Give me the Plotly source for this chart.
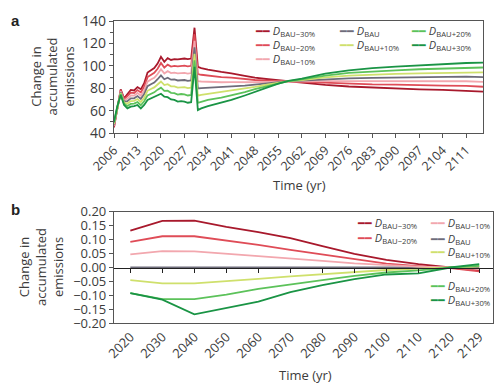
import plotly.graph_objects as go

# ---------------- data: panel a ----------------
years_a = [2006, 2007, 2008, 2009, 2010, 2011, 2012, 2013, 2014, 2015, 2016, 2017, 2018,
           2019, 2020, 2021, 2022, 2023, 2024, 2025, 2026, 2027, 2028, 2029, 2030, 2031,
           2032, 2034, 2038, 2041, 2045, 2048, 2052, 2055, 2058, 2062, 2069, 2076, 2083,
           2090, 2097, 2104, 2111, 2116]
a_m30 = [45.0, 62.0, 79.0, 71.0, 75.0, 78.5, 78.0, 81.0, 79.0, 84.5, 94.0, 96.0, 98.0, 102.0,
         108.0, 103.6, 106.8, 105.2, 106.0, 105.8, 106.0, 106.5, 106.0, 106.5, 134.0, 99.0,
         98.0, 96.5, 94.5, 93.3, 91.0, 89.4, 88.0, 87.0, 86.0, 85.0, 83.0, 81.5, 80.5, 80.0,
         79.0, 78.5, 78.0, 77.0]
a_m20 = [45.8, 62.3, 78.2, 70.0, 72.8, 76.0, 75.7, 78.3, 76.2, 81.3, 89.9, 91.8, 93.7, 97.3,
         102.5, 98.4, 101.0, 99.3, 99.9, 99.5, 99.8, 100.1, 99.5, 100.0, 128.2, 92.6, 92.0,
         91.1, 89.9, 89.4, 88.1, 87.3, 86.8, 86.5, 86.1, 85.6, 84.7, 83.9, 83.4, 83.2, 82.6,
         82.3, 82.1, 81.3]
a_m10 = [46.7, 62.7, 77.3, 69.0, 70.7, 73.5, 73.3, 75.7, 73.3, 78.0, 85.8, 87.7, 89.3, 92.7,
         97.0, 93.2, 95.2, 93.5, 93.9, 93.2, 93.5, 93.7, 93.0, 93.5, 122.3, 86.2, 86.0, 85.7,
         85.3, 85.4, 85.2, 85.3, 85.7, 86.0, 86.2, 86.2, 86.3, 86.3, 86.3, 86.4, 86.2, 86.2,
         86.2, 85.6]
a_bau = [47.5, 63.0, 76.5, 68.0, 68.5, 71.0, 71.0, 73.0, 70.5, 74.8, 81.8, 83.5, 85.0, 88.0,
         91.5, 88.0, 89.4, 87.6, 87.8, 86.9, 87.3, 87.3, 86.5, 87.0, 116.5, 79.8, 80.0, 80.3,
         80.8, 81.4, 82.3, 83.2, 84.5, 85.5, 86.3, 86.8, 88.0, 88.8, 89.3, 89.6, 89.8, 90.0,
         90.3, 89.9]
a_p10 = [48.3, 63.3, 75.7, 67.0, 66.3, 68.5, 68.7, 70.3, 67.7, 71.5, 77.7, 79.3, 80.7, 83.3,
         86.0, 82.8, 83.6, 81.7, 81.7, 80.6, 81.0, 80.9, 80.0, 80.5, 110.7, 73.3, 74.0, 74.9,
         76.2, 77.4, 79.3, 81.1, 83.3, 85.0, 86.3, 87.3, 89.7, 91.2, 92.2, 92.8, 93.3, 93.8,
         94.3, 94.2]
a_p20 = [49.2, 63.7, 74.8, 66.0, 64.2, 66.0, 66.3, 67.7, 64.8, 68.3, 73.6, 75.2, 76.3, 78.7,
         80.5, 77.6, 77.8, 75.9, 75.6, 74.3, 74.8, 74.5, 73.5, 74.0, 104.8, 66.9, 68.0, 69.5,
         71.6, 73.4, 76.4, 79.1, 82.2, 84.5, 86.4, 87.9, 91.3, 93.6, 95.1, 96.0, 96.9, 97.7,
         98.4, 98.5]
a_p30 = [50.0, 64.0, 74.0, 65.0, 62.0, 63.5, 64.0, 65.0, 62.0, 65.0, 69.5, 71.0, 72.0, 74.0,
         75.0, 72.4, 72.0, 70.0, 69.5, 68.0, 68.5, 68.0, 67.0, 67.5, 99.0, 60.5, 62.0, 64.0,
         67.0, 69.5, 73.5, 77.0, 81.0, 84.0, 86.5, 88.5, 93.0, 96.0, 98.0, 99.2, 100.5, 101.5,
         102.5, 102.8]
ticks_a = [2006, 2013, 2020, 2027, 2034, 2041, 2048, 2055, 2062, 2069, 2076, 2083, 2090,
           2097, 2104, 2111]

# ---------------- data: panel b ----------------
years_b = [2020, 2030, 2040, 2050, 2060, 2070, 2080, 2090, 2100, 2110, 2120, 2129]
b_m30 = [0.132, 0.167, 0.168, 0.146, 0.127, 0.105, 0.077, 0.049, 0.027, 0.012, 0.000, -0.011]
b_m20 = [0.092, 0.112, 0.112, 0.097, 0.081, 0.063, 0.046, 0.029, 0.014, 0.005, -0.002, -0.014]
b_m10 = [0.047, 0.059, 0.058, 0.050, 0.041, 0.032, 0.024, 0.015, 0.008, 0.003, 0.000, -0.005]
b_bau = [0.0, 0.0, 0.0, 0.0, 0.0, 0.0, 0.0, 0.0, 0.0, 0.0, 0.0, 0.0]
b_p10 = [-0.045, -0.057, -0.057, -0.050, -0.041, -0.032, -0.024, -0.016, -0.009, -0.004, 0.000, 0.004]
b_p20 = [-0.092, -0.113, -0.113, -0.097, -0.077, -0.060, -0.045, -0.030, -0.018, -0.010, 0.000, 0.006]
b_p30 = [-0.092, -0.115, -0.168, -0.145, -0.122, -0.088, -0.063, -0.042, -0.025, -0.021, 0.000, 0.012]
ticks_b = [2020, 2030, 2040, 2050, 2060, 2070, 2080, 2090, 2100, 2110, 2120, 2129]

names = ["BAU−30%", "BAU−20%", "BAU−10%", "BAU", "BAU+10%", "BAU+20%", "BAU+30%"]
colors = ["#a8192c", "#df4c57", "#f2a7ae", "#6e6c7a", "#cfe06c", "#5cc25a", "#1a9445"]

series_a = [a_m30, a_m20, a_m10, a_bau, a_p10, a_p20, a_p30]
series_b = [b_m30, b_m20, b_m10, b_bau, b_p10, b_p20, b_p30]

W, H = 494, 383
FONT = "Open Sans"
TXT = "#3c3c3c"
AX = "#555555"

def px(x):
    return x / W

def py(y):
    return 1 - y / H

fig = go.Figure()

for s, n, c in zip(series_a, names, colors):
    fig.add_trace(go.Scatter(x=years_a, y=s, mode="lines", name=n,
                             line=dict(color=c, width=1.8), showlegend=False,
                             xaxis="x", yaxis="y"))
order_b = [3, 0, 1, 2, 4, 5, 6]
for i in order_b:
    fig.add_trace(go.Scatter(x=years_b, y=series_b[i], mode="lines", name=names[i],
                             line=dict(color=colors[i], width=1.8), showlegend=False,
                             xaxis="x2", yaxis="y2"))
# carrier trace for the zero-line tick axis
fig.add_trace(go.Scatter(x=[years_b[0]], y=[b_bau[0]], mode="lines", showlegend=False,
                         hoverinfo="skip", line=dict(width=0), xaxis="x3", yaxis="y2"))

tickfont = dict(family=FONT, size=12.5, color=TXT)
dom_a_x = [px(114), px(483)]
dom_b_x = [px(114), px(493)]
dom_a_y = [py(133), py(21)]
dom_b_y = [py(323.3), py(211.7)]

fig.update_layout(
    template="none",
    width=W, height=H, margin=dict(l=0, r=0, t=0, b=0, autoexpand=False),
    paper_bgcolor="white", plot_bgcolor="white",
    font=dict(family=FONT, color=TXT),
    xaxis=dict(domain=dom_a_x, anchor="y", range=[2006, 2116], tickvals=ticks_a,
               tickangle=-45, tickfont=tickfont, ticks="outside", ticklen=4,
               tickcolor=AX, showline=True, linecolor=AX, linewidth=1.2, mirror=True,
               showgrid=False, zeroline=False, automargin=False),
    yaxis=dict(domain=dom_a_y, anchor="x", range=[40, 140], dtick=20,
               tickfont=dict(family=FONT, size=14, color=TXT), ticks="outside", ticklen=4,
               tickcolor=AX, showline=True, linecolor=AX, linewidth=1.2, mirror=True,
               showgrid=False, zeroline=False, automargin=False,
               minor=dict(dtick=10, ticklen=2.5, tickcolor=AX, ticks="outside", showgrid=False)),
    xaxis2=dict(domain=dom_b_x, anchor="y2", range=[2014.9, 2133.3], tickvals=ticks_b,
                tickangle=-45, tickfont=dict(family=FONT, size=13, color=TXT), ticks="",
                showline=True, linecolor=AX, linewidth=1.2, mirror=True,
                showgrid=False, zeroline=False, automargin=False),
    xaxis3=dict(overlaying="x2", anchor="free", position=py(267.5),
                range=[2014.9, 2133.3], tickvals=ticks_b, ticks="outside", ticklen=4,
                tickcolor="#222", showticklabels=False, showline=True,
                linecolor="#222", linewidth=1.2, showgrid=False, zeroline=False,
                automargin=False),
    yaxis2=dict(domain=dom_b_y, anchor="x2", range=[-0.2, 0.2], dtick=0.05,
                tickformat=".2f", tickfont=dict(family=FONT, size=13, color=TXT),
                ticks="outside", ticklen=4, tickcolor=AX, showline=True, linecolor=AX,
                linewidth=1.2, mirror=True, showgrid=False, zeroline=False,
                automargin=False),
)

ann = []
ytitle = "Change in<br>accumulated<br>emissions"
ann.append(dict(text=ytitle, x=px(52.5), y=py(77), xref="paper", yref="paper",
                textangle=-90, showarrow=False, xanchor="center", yanchor="middle",
                font=dict(family=FONT, size=13, color=TXT)))
ann.append(dict(text=ytitle, x=px(40.5), y=py(267.5), xref="paper", yref="paper",
                textangle=-90, showarrow=False, xanchor="center", yanchor="middle",
                font=dict(family=FONT, size=13, color=TXT)))
ann.append(dict(text="Time (yr)", x=px(299.5), y=py(185), xref="paper", yref="paper",
                showarrow=False, xanchor="center", yanchor="middle",
                font=dict(family=FONT, size=13, color=TXT)))
ann.append(dict(text="Time (yr)", x=px(305), y=py(375), xref="paper", yref="paper",
                showarrow=False, xanchor="center", yanchor="middle",
                font=dict(family=FONT, size=13, color=TXT)))
ann.append(dict(text="<b>a</b>", x=px(15), y=py(20), xref="paper", yref="paper",
                showarrow=False, xanchor="center", yanchor="middle",
                font=dict(family="Liberation Sans", size=15, color="#222")))
ann.append(dict(text="<b>b</b>", x=px(15), y=py(209.5), xref="paper", yref="paper",
                showarrow=False, xanchor="center", yanchor="middle",
                font=dict(family="Liberation Sans", size=15, color="#222")))

# legend entries (x of line start, y centre)
leg_a = [(253, 31), (253, 45), (253, 58.5), (337, 31), (337, 45), (409, 31), (409, 45)]
leg_b = [(355, 223), (355, 238), (428, 223), (428, 239), (428, 252), (428, 285.5), (428, 300)]
for legpos in (leg_a, leg_b):
    for (lx, ly), n, c in zip(legpos, names, colors):
        t = (f"<span style='color:{c}'>━━</span> <i>D</i><sub>{n}</sub>")
        ann.append(dict(text=t, x=px(lx), y=py(ly), xref="paper", yref="paper",
                        showarrow=False, xanchor="left", yanchor="middle",
                        font=dict(family=FONT, size=11, color=TXT)))

fig.update_layout(annotations=ann)
fig.write_html("out.html", config={"displayModeBar": False},
               post_script="document.body.style.margin='0';")
